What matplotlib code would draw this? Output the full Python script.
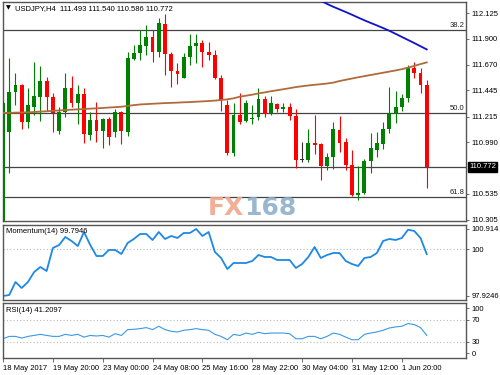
import matplotlib
matplotlib.use('Agg')
import matplotlib.pyplot as plt
import numpy as np

# ---------------- data ----------------
opens = [110.25, 111.078, 111.430, 111.492, 111.166, 111.298, 111.386, 111.527, 111.386, 111.087,
         111.254, 111.465, 111.333, 111.413, 111.052, 111.184, 111.087, 111.193, 111.078, 111.254,
         111.078, 111.720, 111.773, 111.835, 111.914, 111.782, 112.028, 111.764, 111.615, 111.553,
         111.738, 111.835, 111.861, 111.782, 111.756, 111.553, 111.316, 110.894, 111.228, 111.175,
         111.195, 111.210, 111.369, 111.246, 111.325, 111.285, 111.298, 111.219, 110.832, 110.832,
         110.982, 110.973, 110.779, 110.858, 111.096, 110.990, 110.788, 110.524, 110.542, 110.823,
         110.920, 110.973, 111.105, 111.237, 111.298, 111.377, 111.641, 111.597, 111.493]
highs = [111.35, 111.729, 111.597, 111.501, 111.465, 111.694, 111.659, 111.562, 111.421, 111.298,
         111.597, 111.571, 111.492, 111.465, 111.254, 111.342, 111.202, 111.210, 111.281, 111.263,
         111.782, 111.844, 111.975, 112.019, 111.975, 112.081, 112.116, 111.782, 111.685, 111.773,
         111.940, 111.940, 111.888, 111.870, 111.800, 111.580, 111.360, 111.333, 111.421, 111.360,
         111.316, 111.465, 111.395, 111.395, 111.333, 111.333, 111.333, 111.281, 110.990, 111.105,
         111.228, 110.980, 110.894, 111.166, 111.219, 111.026, 110.920, 110.779, 110.841, 111.070,
         111.078, 111.166, 111.474, 111.439, 111.413, 111.668, 111.694, 111.641, 111.540]
lows = [110.20, 110.718, 111.316, 111.105, 111.114, 111.228, 111.175, 111.263, 111.078, 111.061,
        111.210, 111.298, 111.149, 110.982, 111.008, 110.990, 110.938, 110.964, 111.034, 110.973,
        111.043, 111.712, 111.712, 111.756, 111.694, 111.738, 111.580, 111.474, 111.501, 111.553,
        111.668, 111.685, 111.650, 111.712, 111.545, 111.263, 110.876, 110.867, 111.149, 111.170,
        111.149, 111.184, 111.210, 111.228, 111.254, 111.254, 111.184, 110.762, 110.815, 110.815,
        110.885, 110.656, 110.744, 110.753, 110.900, 110.744, 110.520, 110.480, 110.535, 110.718,
        110.858, 110.929, 111.070, 111.158, 111.263, 111.342, 111.553, 111.421, 110.586]
closes = [111.333, 111.430, 111.492, 111.166, 111.316, 111.395, 111.527, 111.386, 111.246, 111.254,
          111.465, 111.333, 111.413, 111.061, 111.184, 111.087, 111.193, 111.034, 111.254, 111.087,
          111.729, 111.773, 111.844, 111.914, 111.782, 112.037, 111.764, 111.615, 111.589, 111.738,
          111.835, 111.861, 111.782, 111.756, 111.553, 111.360, 110.894, 111.228, 111.166, 111.333,
          111.205, 111.369, 111.237, 111.333, 111.281, 111.298, 111.219, 110.832, 110.832, 110.982,
          110.964, 110.779, 110.858, 111.105, 110.982, 110.788, 110.524, 110.542, 110.823, 110.938,
          110.982, 111.105, 111.246, 111.298, 111.377, 111.650, 111.597, 111.492, 110.772]

ma_brown = [111.246, 111.247, 111.249, 111.250, 111.252, 111.254, 111.258, 111.261, 111.265, 111.268,
            111.272, 111.275, 111.278, 111.281, 111.284, 111.287, 111.290, 111.294, 111.297, 111.301,
            111.308, 111.315, 111.321, 111.324, 111.327, 111.330, 111.333, 111.335, 111.337, 111.340,
            111.342, 111.345, 111.348, 111.351, 111.355, 111.360, 111.366, 111.375, 111.389, 111.398,
            111.407, 111.418, 111.427, 111.437, 111.446, 111.455, 111.464, 111.474, 111.481, 111.488,
            111.494, 111.499, 111.505, 111.513, 111.527, 111.538, 111.549, 111.560, 111.570, 111.580,
            111.590, 111.600, 111.610, 111.620, 111.631, 111.645, 111.660, 111.676, 111.691]
ma_blue_start = 51
ma_blue = [112.235, 112.205, 112.180, 112.157, 112.134, 112.110, 112.085, 112.061, 112.038, 112.016,
           111.993, 111.969, 111.942, 111.915, 111.888, 111.861, 111.833, 111.805]

momentum = [97.925, 97.969, 98.549, 98.281, 98.549, 98.995, 99.218, 99.040, 100.066, 100.200,
            100.557, 100.379, 100.155, 100.780, 100.200, 99.709, 99.709, 99.977, 99.977, 99.799,
            100.289, 100.468, 100.691, 100.691, 100.423, 100.780, 100.468, 100.602, 100.512, 100.736,
            100.736, 100.914, 100.602, 100.780, 99.888, 99.620, 99.129, 99.397, 99.397, 99.397,
            99.486, 99.754, 99.665, 99.665, 99.531, 99.531, 99.531, 99.174, 99.352, 99.665,
            100.111, 99.620, 99.754, 99.843, 99.843, 99.486, 99.352, 99.263, 99.620, 99.665,
            99.843, 100.379, 100.468, 100.423, 100.512, 100.880, 100.825, 100.512, 99.795]

rsi = [35.0, 39.3, 39.3, 36.2, 39.3, 41.1, 43.0, 41.1, 39.3, 39.3,
       43.0, 41.1, 43.0, 38.0, 41.0, 40.0, 41.0, 38.0, 44.2, 41.0,
       51.6, 52.2, 53.4, 55.3, 51.6, 57.7, 51.6, 48.5, 47.3, 50.4,
       51.6, 53.4, 51.6, 50.4, 43.0, 39.3, 33.2, 43.0, 41.0, 45.4,
       43.0, 46.7, 44.2, 45.4, 45.4, 45.4, 44.2, 35.0, 35.0, 39.3,
       39.3, 35.0, 39.3, 45.4, 43.0, 38.0, 33.2, 33.2, 43.0, 45.4,
       47.3, 50.4, 54.6, 56.5, 57.7, 62.6, 60.8, 55.3, 41.2]

fib_levels = [111.975, 111.243, 110.504]
fib_labels = ['38.2', '50.0', '61.8']
last_price = 110.772

price_ticks = [112.125, 111.900, 111.670, 111.445, 111.215, 110.990, 110.535, 110.305]
price_tick_labels = ['112.125', '111.900', '111.670', '111.445', '111.215', '110.990', '110.535', '110.305']
time_tick_idx = [0, 8, 16, 24, 32, 40, 48, 56, 64]
time_tick_labels = ['18 May 2017', '19 May 20:00', '23 May 00:00', '24 May 08:00', '25 May 16:00',
                    '28 May 22:00', '30 May 04:00', '31 May 12:00', '1 Jun 20:00']

# ---------------- layout ----------------
W, H = 500, 375
FONT = ['Liberation Sans', 'DejaVu Sans']
plt.rcParams['font.family'] = FONT
fig = plt.figure(figsize=(5, 3.75), dpi=100)
fig.patch.set_facecolor('white')

def rect(x0, y0, x1, y1):
    return [x0 / W, 1 - y1 / H, (x1 - x0) / W, (y1 - y0) / H]

ax = fig.add_axes(rect(3, 2, 466, 221))
axm = fig.add_axes(rect(3, 225, 466, 300), sharex=ax)
axr = fig.add_axes(rect(3, 303, 466, 358), sharex=ax)

SPINE = '#555555'
FS = 5.5
for a in (ax, axm, axr):
    for s in a.spines.values():
        s.set_color(SPINE)
        s.set_linewidth(1.0)
    a.yaxis.tick_right()
    a.tick_params(axis='y', direction='out', length=2.5, width=0.6, colors=SPINE,
                  labelcolor='black', labelsize=FS, pad=1.5)
    a.tick_params(axis='x', bottom=False, labelbottom=False)

n = len(opens)
ax.set_xlim(0, 74.3)
ax.set_ylim(110.296, 112.222)

GREEN = '#008000'
RED = '#FF0000'
x = np.arange(n)
for i in range(n):
    o, h, l, c = opens[i], highs[i], lows[i], closes[i]
    col = GREEN if c > o else (RED if c < o else '#333333')
    ax.vlines(i, l, h, color=col, lw=0.8, zorder=3)
    ax.bar(i, max(abs(c - o), 0.006), bottom=min(o, c), width=0.62, color=col,
           linewidth=0, zorder=4)

ax.plot(x, ma_brown, color='#B06A3B', lw=1.3, zorder=5)
ax.plot(np.arange(ma_blue_start, ma_blue_start + len(ma_blue)), ma_blue, color='#1010D0', lw=1.3, zorder=5)

for lv, lb in zip(fib_levels, fib_labels):
    ax.axhline(lv, color='#444444', lw=0.9, zorder=2)
    ax.text(74.1, lv + 0.012, lb, ha='right', va='bottom', fontsize=FS, color='#222222')
ax.axhline(last_price, color='#444444', lw=0.9, zorder=2)

ax.set_yticks(price_ticks)
ax.set_yticklabels(price_tick_labels)
ax.text(1.007, last_price, '%.3f' % last_price, transform=ax.get_yaxis_transform(),
        ha='left', va='center', fontsize=FS, color='white',
        bbox=dict(boxstyle='square,pad=0.15', fc='black', ec='black'))

ax.text(0.006, 0.985, '\u25BC', transform=ax.transAxes, ha='left', va='top', fontsize=4.5,
        family='DejaVu Sans')
ax.text(0.025, 0.985, 'USDJPY,H4  %.3f %.3f %.3f %.3f' % (opens[-1], highs[-1], lows[-1], closes[-1]),
        transform=ax.transAxes, ha='left', va='top', fontsize=FS)

# watermark
fig.text(244 / W, 1 - 208 / H, 'FX', ha='right', va='center', fontsize=18, fontweight='bold',
         family='DejaVu Sans', color='#F0A68C', alpha=0.9)
fig.text(244 / W, 1 - 208 / H, '168', ha='left', va='center', fontsize=18, fontweight='bold',
         family='DejaVu Sans', color='#8EB0C9', alpha=0.9)

# momentum
axm.set_ylim(97.746, 101.092)
axm.axhline(100, color='#BBBBBB', lw=0.8, ls=(0, (1, 2)))
axm.plot(x, momentum, color='#1E88E5', lw=1.3)
axm.set_yticks([100.914, 100, 97.9246])
axm.set_yticklabels(['100.914', '100', '97.9246'])
axm.text(0.006, 0.96, 'Momentum(14) %.4f' % 99.7946, transform=axm.transAxes, ha='left', va='top', fontsize=FS)

# rsi
axr.set_ylim(0, 100)
for lv in (70, 30):
    axr.axhline(lv, color='#BBBBBB', lw=0.8, ls=(0, (1, 2)))
axr.plot(x, rsi, color='#3A98E6', lw=0.8)
axr.set_yticks([90.5, 70, 30, 8.5])
axr.set_yticklabels(['100', '70', '30', '0'])
axr.text(0.006, 0.93, 'RSI(14) %.4f' % 41.2097, transform=axr.transAxes, ha='left', va='top', fontsize=FS)

axr.tick_params(axis='x', bottom=True, labelbottom=True, direction='out', length=3, width=0.6,
                colors=SPINE, labelcolor='black', labelsize=FS, pad=2)
axr.set_xticks(time_tick_idx)
axr.set_xticklabels(time_tick_labels, ha='left')

fig.savefig('out.png', dpi=100)
